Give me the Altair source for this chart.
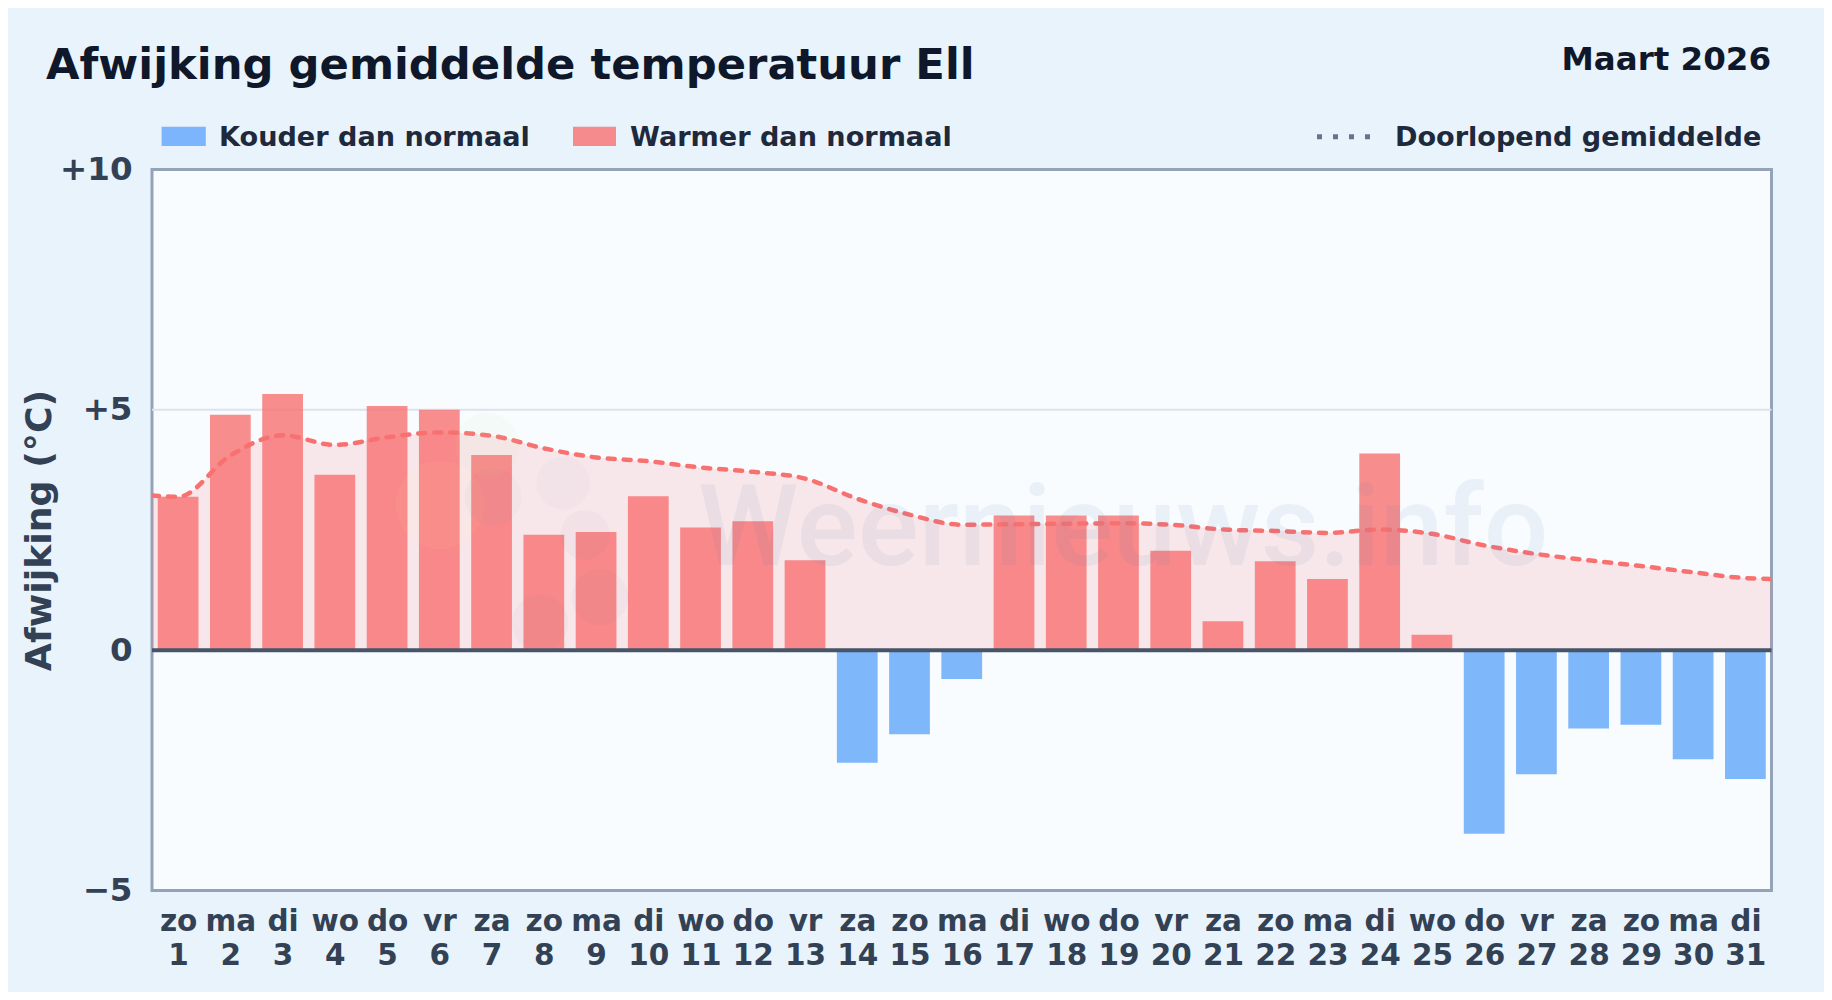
import altair as alt
import pandas as pd

days = list(range(1, 32))
weekdays = ["zo","ma","di","wo","do","vr","za","zo","ma","di","wo","do","vr","za","zo","ma","di","wo","do","vr","za","zo","ma","di","wo","do","vr","za","zo","ma","di"]
deviation = [3.19,4.90,5.33,3.65,5.08,5.00,4.06,2.40,2.46,3.20,2.55,2.68,1.87,-2.34,-1.75,-0.60,2.80,2.80,2.80,2.07,0.60,1.85,1.48,4.09,0.32,-3.82,-2.58,-1.63,-1.55,-2.27,-2.68]
avg_days = [0.5] + days + [31.5]
running_avg = [3.22,3.19,4.05,4.47,4.27,4.43,4.53,4.46,4.20,4.01,3.93,3.80,3.71,3.57,3.15,2.82,2.61,2.62,2.63,2.64,2.61,2.51,2.48,2.44,2.51,2.42,2.18,2.00,1.87,1.75,1.62,1.50,1.48]

TITLE = "Afwijking gemiddelde temperatuur Ell"
PERIOD = "Maart 2026"
LEGEND_COLD = "Kouder dan normaal"
LEGEND_WARM = "Warmer dan normaal"
LEGEND_AVG = "Doorlopend gemiddelde"
WATERMARK = "Weernieuws.info"
FONT = "DejaVu Sans"

PL, PT = 152.0, 169.5   # page position of plot area
W, H = 1619.5, 721.0

bars = pd.DataFrame({"day": days, "dev": deviation})
avg = pd.DataFrame({"day": avg_days, "avg": running_avg})

x_scale = alt.Scale(domain=[0.5, 31.5], nice=False, zero=False)
y_scale = alt.Scale(domain=[-5, 10], nice=False)

wd_js = "[" + ",".join(f"'{d}'" for d in weekdays) + "]"
x_axis = alt.Axis(values=days, labelExpr=f"[{wd_js}[datum.value-1], '' + datum.value]",
                  title=None, ticks=False, domain=False, grid=False, labelAngle=0,
                  labelFontSize=29.5, labelFontWeight="bold", labelColor="#334155", labelFont=FONT,
                  labelPadding=17, labelOverlap=False, labelFlush=False, labelBound=False,
                  labelLineHeight=34, labelBaseline="top")
y_axis = alt.Axis(values=[-5, 0, 5, 10],
                  labelExpr="datum.value > 0 ? '+' + datum.value : (datum.value < 0 ? '\u2212' + abs(datum.value) : '0')",
                  title="Afwijking (\u00b0C)", ticks=False, domain=False, grid=False,
                  labelFontSize=32.5, labelFontWeight="bold", labelColor="#334155", labelFont=FONT,
                  labelPadding=20, labelOverlap=False, labelFlush=False, labelBound=False,
                  titleFontSize=36.3, titleFontWeight="bold", titleColor="#334155", titleFont=FONT,
                  titleX=50 - PL, titleY=530 - PT, titleAlign="center", titleBaseline="alphabetic")

grid = alt.Chart(pd.DataFrame({"v": [5]})).mark_rule(color="#dbe3ec", strokeWidth=2).encode(
    y=alt.Y("v:Q", scale=y_scale, axis=y_axis))

area = alt.Chart(avg).mark_area(color="#f87171", opacity=0.15, interpolate="monotone", clip=True).encode(
    x=alt.X("day:Q", scale=x_scale, axis=x_axis),
    y=alt.Y("avg:Q", scale=y_scale),
    y2=alt.datum(0))

bar = alt.Chart(bars).transform_calculate(lo="datum.day - 0.39", hi="datum.day + 0.39", zero="0").mark_bar(opacity=0.8).encode(
    x=alt.X("lo:Q", scale=x_scale),
    x2="hi:Q",
    y=alt.Y("dev:Q", scale=y_scale),
    y2="zero:Q",
    color=alt.condition("datum.dev < 0", alt.value("#60a5fa"), alt.value("#f87171")))

zero = alt.Chart(pd.DataFrame({"v": [0]})).mark_rule(color="#475569", strokeWidth=4).encode(
    y=alt.Y("v:Q", scale=y_scale))

line = alt.Chart(avg).mark_line(color="#f87171", strokeWidth=4.5, strokeDash=[7, 9], strokeCap="round",
                                interpolate="monotone", clip=True).encode(
    x=alt.X("day:Q", scale=x_scale),
    y=alt.Y("avg:Q", scale=y_scale))


def label(text, px, py, size, color, align="left", opacity=1.0, weight="bold", font=FONT):
    return alt.Chart(pd.DataFrame({"t": [text]})).mark_text(
        align=align, baseline="alphabetic", fontSize=size, fontWeight=weight, font=font,
        color=color, opacity=opacity
    ).encode(text="t:N", x=alt.value(px - PL), y=alt.value(py - PT))


def swatch(x0, x1, y0, y1, color):
    return alt.Chart(pd.DataFrame({"a": [0]})).mark_rect(color=color, opacity=0.8).encode(
        x=alt.value(x0 - PL), x2=alt.value(x1 - PL), y=alt.value(y0 - PT), y2=alt.value(y1 - PT))


def blob(px, py, radius, color, opacity):
    return alt.Chart(pd.DataFrame({"a": [0]})).mark_circle(color=color, opacity=opacity).encode(
        x=alt.value(px - PL), y=alt.value(py - PT), size=alt.value(3.1416 * radius * radius))


legend_dots = alt.Chart(pd.DataFrame({"a": [0]})).mark_rule(color="#64748b", strokeWidth=5, strokeDash=[5, 11]).encode(
    x=alt.value(1317 - PL), x2=alt.value(1376 - PL), y=alt.value(136.7 - PT))

watermark = label(WATERMARK, 698, 565, 114, "#6480b0", opacity=0.09, weight=500, font="Roboto")

logo = [
    blob(487, 445, 36, "#c8e6a0", 0.07),
    blob(440, 505, 50, "#fde68a", 0.05),
    blob(493, 497, 32, "#6480b0", 0.045),
    blob(563, 483, 30, "#6480b0", 0.045),
    blob(585, 535, 28, "#6480b0", 0.04),
    blob(540, 623, 32, "#6480b0", 0.04),
    blob(600, 597, 32, "#6480b0", 0.04),
]

chart = alt.layer(
    grid, area, bar, zero, line, *logo, watermark,
    label(TITLE, 46, 79, 43.3, "#0f172a"),
    label(PERIOD, 1771, 70, 32.5, "#0f172a", align="right"),
    swatch(161.6, 205.8, 126.7, 146, "#60a5fa"),
    label(LEGEND_COLD, 219, 146, 27.1, "#1e293b"),
    swatch(573, 616, 126.7, 146, "#f87171"),
    label(LEGEND_WARM, 630, 146, 27.1, "#1e293b"),
    legend_dots,
    label(LEGEND_AVG, 1395, 146, 27.1, "#1e293b"),
).properties(
    width=W, height=H, background="#e8f3fc",
    padding={"left": PL - 8, "top": PT - 8, "right": 1816 - (PL - 8) - W, "bottom": 984 - (PT - 8) - H},
    autosize=alt.AutoSizeParams(type="none"),
).configure_view(fill="#f8fcff", stroke="#94a3b8", strokeWidth=3)

chart.save("out.html", embed_options={"renderer": "svg", "actions": False})
